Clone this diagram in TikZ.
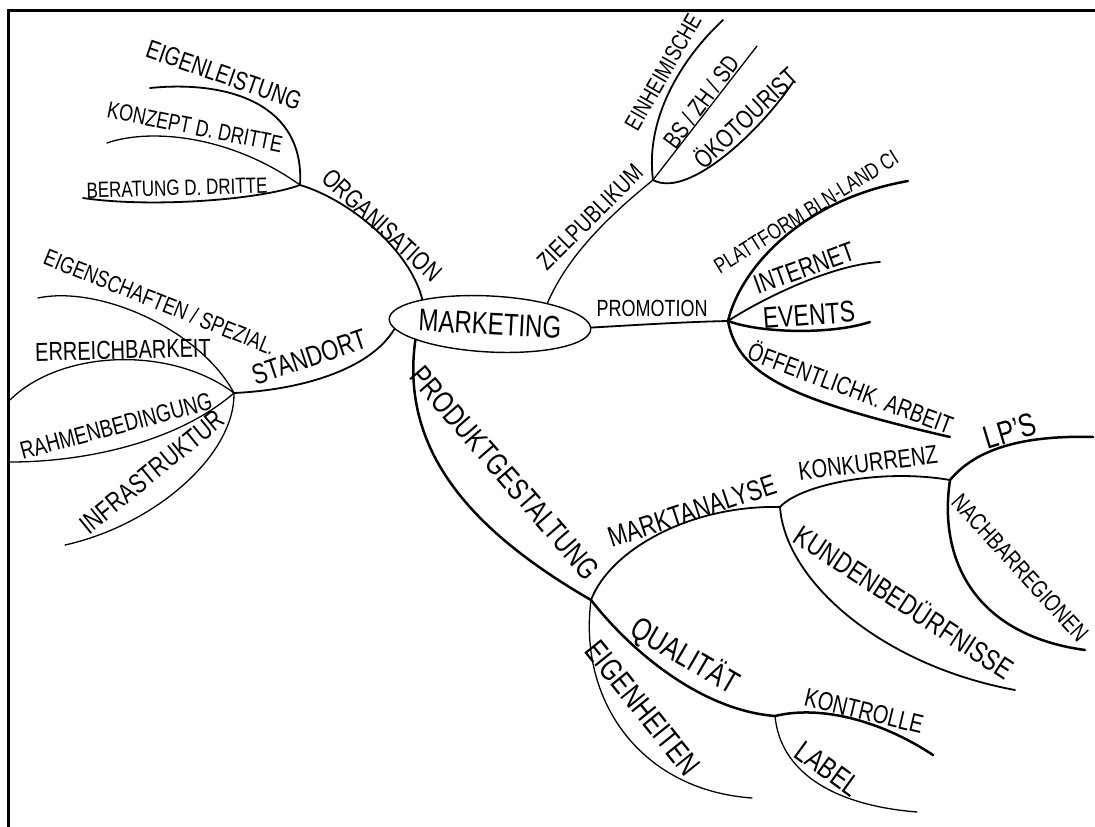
\documentclass[tikz,border=0pt]{standalone}
\usepackage{fontspec}
\setmainfont{Liberation Sans}
\usepackage{graphicx}
\usetikzlibrary{shapes.geometric}
\newcommand{\hw}[1]{\scalebox{1}[1.3]{#1}}
\newcommand{\fs}[1]{\fontsize{#1}{#1}\selectfont}
\tikzset{
  lab/.style={inner sep=0pt, outer sep=0pt},
  brA/.style={line width=1.3pt, line cap=round},
  brB/.style={line width=1.8pt, line cap=round},
  brC/.style={line width=2.5pt, line cap=round},
  frame/.style={line width=3pt}
}
\begin{document}
\begin{tikzpicture}[x=1pt,y=-1pt]
\useasboundingbox (0,0) rectangle (1095,827);
\draw[frame] (1095,10) -- (8,10) -- (8,827);

% centre
\node[draw, ellipse, minimum width=178pt, minimum height=56pt, inner sep=0pt,
      rotate=-3, line width=1.4pt, font=\fs{24}] (mk) at (490,324) {\hw{MARKETING}};

% junctions and free ends
\coordinate (org)  at (300,185);
\coordinate (std)  at (234,393);
\coordinate (ziel) at (653,180);
\coordinate (prom) at (728,321);
\coordinate (prod) at (591,600);
\coordinate (mkt)  at (780,507);
\coordinate (konk) at (950,480);
\coordinate (qual) at (775,716);

\coordinate (eEig)  at (150,88);
\coordinate (eKon)  at (107,143);
\coordinate (eBer)  at (83,198);
\coordinate (eEsch) at (38,298);
\coordinate (eErr)  at (10,400);
\coordinate (eRah)  at (10,462);
\coordinate (eInf)  at (65,545);
\coordinate (eEin)  at (723,20);
\coordinate (eBs)   at (757,46);
\coordinate (eOko)  at (793,82);
\coordinate (ePla)  at (908,181);
\coordinate (eInt)  at (880,262);
\coordinate (eEve)  at (870,322);
\coordinate (eOff)  at (950,437);
\coordinate (eLps)  at (1093,437);
\coordinate (eNach) at (1085,650);
\coordinate (eKun)  at (1015,690);
\coordinate (eKtr)  at (933,755);
\coordinate (eLab)  at (917,812);
\coordinate (eEgh)  at (752,798);

% ORGANISATION
\draw[brB] (org) .. controls (350,200) and (410,250) .. (mk.163);
\draw[brB] (eEig) .. controls (230,80) and (305,105) .. (org);
\draw[brA] (eKon) .. controls (150,128) and (230,135) .. (org);
\draw[brB] (eBer) .. controls (150,208) and (260,200) .. (org);
% STANDORT
\draw[brB] (std) .. controls (300,390) and (370,370) .. (mk.186);
\draw[brA] (eEsch) .. controls (100,285) and (200,330) .. (std);
\draw[brA] (eErr) .. controls (60,350) and (170,345) .. (std);
\draw[brA] (eRah) .. controls (90,462) and (180,440) .. (std);
\draw[brA] (eInf) .. controls (155,525) and (235,455) .. (std);
% ZIELPUBLIKUM
\draw[brA] (mk.23) .. controls (568,255) and (610,215) .. (ziel);
\draw[brB] (ziel) .. controls (645,120) and (680,60) .. (eEin);
\draw[brA] (ziel) -- (eBs);
\draw[brB] (ziel) .. controls (690,200) and (765,125) .. (eOko);
% PROMOTION
\draw[brB] (mk.1) .. controls (620,326) and (680,322) .. (prom);
\draw[brC] (prom) .. controls (740,270) and (800,200) .. (ePla);
\draw[brB] (prom) .. controls (760,300) and (830,265) .. (eInt);
\draw[brC] (prom) .. controls (760,333) and (830,335) .. (eEve);
\draw[brC] (prom) .. controls (738,375) and (790,400) .. (eOff);
% PRODUKTGESTALTUNG
\draw[brC] (mk.195) .. controls (400,450) and (470,530) .. (prod);
\draw[brB] (prod) .. controls (610,550) and (690,505) .. (mkt);
\draw[brB] (mkt) .. controls (800,485) and (880,468) .. (konk);
\draw[brC] (konk) .. controls (975,450) and (1020,435) .. (eLps);
\draw[brC] (konk) .. controls (938,560) and (975,635) .. (eNach);
\draw[brB] (mkt) .. controls (785,580) and (880,665) .. (eKun);
\draw[brC] (prod) .. controls (630,650) and (700,710) .. (qual);
\draw[brC] (qual) .. controls (820,705) and (880,720) .. (eKtr);
\draw[brA] (qual) .. controls (780,770) and (830,805) .. (eLab);
\draw[brA] (prod) .. controls (578,700) and (640,790) .. (eEgh);

% labels
\node[lab, rotate=-42.7, font=\fs{20}] (lOrg) at (382,225) {\hw{ORGANISATION}};
\node[lab, rotate=-19.2, font=\fs{20}] (lEig) at (224,75) {\hw{EIGENLEISTUNG}};
\node[lab, rotate=-11.4, font=\fs{18}] (lKon) at (195,127) {\hw{KONZEPT D. DRITTE}};
\node[lab, rotate=1.7, font=\fs{17}] (lBer) at (177,188) {\hw{BERATUNG D. DRITTE}};
\node[lab, rotate=18.6, font=\fs{22}] (lStd) at (309,357) {\hw{STANDORT}};
\node[lab, rotate=-21.8, font=\fs{18}] (lEsch) at (160,302) {\hw{EIGENSCHAFTEN / SPEZIAL.}};
\node[lab, rotate=1.4, font=\fs{20}] (lErr) at (123,350) {\hw{ERREICHBARKEIT}};
\node[lab, rotate=14.9, font=\fs{19}] (lRah) at (116,426) {\hw{RAHMENBEDINGUNG}};
\node[lab, rotate=39.2, font=\fs{21}] (lInf) at (152,472) {\hw{INFRASTRUKTUR}};
\node[lab, rotate=44.7, font=\fs{19}] (lZiel) at (590,217) {\hw{ZIELPUBLIKUM}};
\node[lab, rotate=60.2, font=\fs{18}] (lEin) at (663,72) {\hw{EINHEIMISCHE}};
\node[lab, rotate=53.3, font=\fs{19}] (lBs) at (701,102) {\hw{BS / ZH / SD}};
\node[lab, rotate=43.3, font=\fs{20}] (lOko) at (745,117) {\hw{ÖKOTOURIST}};
\node[lab, rotate=0, font=\fs{18}] (lProm) at (652,308) {\hw{PROMOTION}};
\node[lab, rotate=32, font=\fs{17}] (lPla) at (806,212) {\hw{PLATTFORM BLN-LAND CI}};
\node[lab, rotate=19.9, font=\fs{21}] (lInt) at (804,268) {\hw{INTERNET}};
\node[lab, rotate=4.3, font=\fs{23}] (lEve) at (809,315) {\hw{EVENTS}};
\node[lab, rotate=-20.5, font=\fs{19.5}] (lOff) at (851,387) {\hw{ÖFFENTLICHK. ARBEIT}};
\node[lab, rotate=-49.1, font=\fs{23.5}] (lProd) at (505,473) {\hw{PRODUKTGESTALTUNG}};
\node[lab, rotate=18.3, font=\fs{22}] (lMkt) at (692,511) {\hw{MARKTANALYSE}};
\node[lab, rotate=7, font=\fs{20}] (lKonk) at (868,463) {\hw{KONKURRENZ}};
\node[lab, rotate=16.7, font=\fs{25}] (lLps) at (1010,431) {\hw{LP'S}};
\node[lab, rotate=-47.5, font=\fs{18.5}] (lNach) at (1020,568) {\hw{NACHBARREGIONEN}};
\node[lab, rotate=-33.3, font=\fs{22.5}] (lKun) at (905,601) {\hw{KUNDENBEDÜRFNISSE}};
\node[lab, rotate=-30.2, font=\fs{24.5}] (lQual) at (685,656) {\hw{QUALITÄT}};
\node[lab, rotate=-13.7, font=\fs{20}] (lKtr) at (864,711) {\hw{KONTROLLE}};
\node[lab, rotate=-36, font=\fs{23}] (lLab) at (828,769) {\hw{LABEL}};
\node[lab, rotate=-51.2, font=\fs{24}] (lEgh) at (643,708) {\hw{EIGENHEITEN}};
\end{tikzpicture}
\end{document}
